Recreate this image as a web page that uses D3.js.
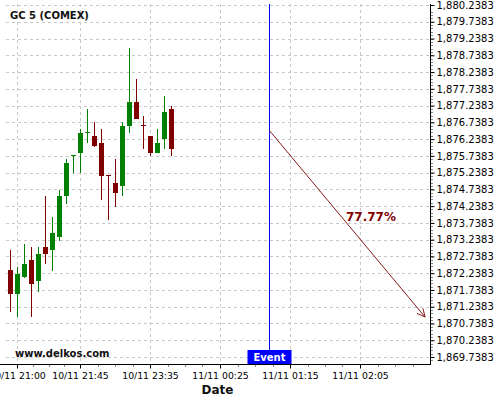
<!DOCTYPE html>
<html>
<head>
<meta charset="utf-8">
<script src="https://cdn.jsdelivr.net/npm/d3@7"></script>
<style>
  html, body { margin: 0; padding: 0; background: #fff; }
  svg { display: block; font-family: "DejaVu Sans", sans-serif; }
</style>
</head>
<body>
<svg id="chart" width="500" height="400"></svg>
<script>
// ---- data ----
const title = "GC 5 (COMEX)";
const watermark = "www.delkos.com";
const openP  = [1872.33, 1871.63, 1872.13, 1872.63, 1872.02, 1873.02, 1872.94, 1873.33, 1874.55, 1875.74, 1875.83, 1876.44, 1876.33, 1876.12, 1875.16, 1874.93, 1874.85, 1876.64, 1877.35, 1876.66, 1876.33, 1875.83, 1876.24, 1877.14];
const highP  = [1872.93, 1872.43, 1873.11, 1873.02, 1873.02, 1874.53, 1873.92, 1874.72, 1875.64, 1875.77, 1876.53, 1877.13, 1876.74, 1876.53, 1875.16, 1875.64, 1876.74, 1878.95, 1878.02, 1876.92, 1876.34, 1876.53, 1877.52, 1877.23];
const lowP   = [1871.09, 1870.92, 1872.10, 1870.92, 1871.69, 1872.50, 1872.31, 1873.21, 1874.31, 1875.22, 1875.22, 1876.11, 1876.01, 1874.41, 1873.82, 1874.20, 1874.53, 1876.41, 1876.84, 1875.93, 1875.73, 1875.82, 1875.93, 1875.73];
const closeP = [1871.63, 1872.21, 1872.51, 1871.93, 1872.81, 1872.82, 1873.44, 1874.54, 1875.53, 1875.76, 1876.42, 1876.45, 1876.04, 1875.15, 1875.15, 1874.64, 1876.63, 1877.35, 1876.85, 1876.64, 1875.83, 1876.12, 1877.05, 1875.95];
const xTickIndex  = [1, 10, 20, 30, 40, 50];
const xTickLabels = ["10/11 21:00", "10/11 21:45", "10/11 23:35", "11/11 00:25", "11/11 01:15", "11/11 02:05"];
const yTickValues = [1869.7383, 1870.2383, 1870.7383, 1871.2383, 1871.7383, 1872.2383, 1872.7383, 1873.2383, 1873.7383, 1874.2383, 1874.7383, 1875.2383, 1875.7383, 1876.2383, 1876.7383, 1877.2383, 1877.7383, 1878.2383, 1878.7383, 1879.2383, 1879.7383, 1880.2383];
const eventIndex = 37;
const eventLabel = "Event";
const arrowFrom = [37, 1876.51];
const arrowTo   = [59.3, 1870.93];
const arrowLabel = "77.77%";
const axisTitle = "Date";

// ---- layout ----
const svg = d3.select("#chart");
const plotLeft = 6, plotRight = 430, plotTop = 4, plotBottom = 364;

const x = d3.scaleLinear().domain([0, 60]).range([10, 430]);
const y = d3.scaleLinear().domain([1869.7383, 1880.2383]).range([357, 5]);

const candles = openP.map((o, i) => ({ i, o, h: highP[i], l: lowP[i], c: closeP[i] }));

// grid
const grid = svg.append("g").attr("shape-rendering", "crispEdges");
grid.selectAll("line.h").data(yTickValues).join("line")
  .attr("x1", plotLeft).attr("x2", plotRight)
  .attr("y1", d => Math.round(y(d)) + 0.5).attr("y2", d => Math.round(y(d)) + 0.5)
  .attr("stroke", "#c8c8c8").attr("stroke-dasharray", "3,3");
grid.selectAll("line.v").data(xTickIndex).join("line")
  .attr("x1", d => Math.round(x(d)) + 0.5).attr("x2", d => Math.round(x(d)) + 0.5)
  .attr("y1", plotTop).attr("y2", plotBottom)
  .attr("stroke", "#c8c8c8").attr("stroke-dasharray", "3,3");

// title & watermark
svg.append("text").attr("x", 10).attr("y", 19).attr("font-size", 10).attr("font-weight", "bold")
  .attr("fill", "#111").text(title);
svg.append("text").attr("x", 15).attr("y", 357).attr("font-size", 10).attr("font-weight", "bold")
  .attr("fill", "#111").text(watermark);

// candles
const cg = svg.append("g").attr("shape-rendering", "crispEdges");
const col = d => d.c >= d.o ? "#008000" : "#800000";
cg.selectAll("line.wick").data(candles).join("line")
  .attr("x1", d => Math.round(x(d.i)) + 0.5).attr("x2", d => Math.round(x(d.i)) + 0.5)
  .attr("y1", d => y(d.h)).attr("y2", d => y(d.l))
  .attr("stroke", col);
cg.selectAll("rect.body").data(candles).join("rect")
  .attr("x", d => Math.round(x(d.i)) - 2).attr("width", 5)
  .attr("y", d => Math.min(y(d.o), y(d.c)))
  .attr("height", d => Math.max(1.2, Math.abs(y(d.o) - y(d.c))))
  .attr("fill", col);

// event line
const ex = Math.round(x(eventIndex)) + 0.5;
svg.append("line").attr("x1", ex).attr("x2", ex).attr("y1", plotTop).attr("y2", 350)
  .attr("stroke", "#0000ff").attr("shape-rendering", "crispEdges");
svg.append("rect").attr("x", ex - 22).attr("y", 350).attr("width", 44).attr("height", 14)
  .attr("fill", "#0000ff");
svg.append("text").attr("x", ex).attr("y", 361).attr("text-anchor", "middle")
  .attr("font-size", 10).attr("font-weight", "bold").attr("fill", "#fff").text(eventLabel);

// arrow
const ax1 = x(arrowFrom[0]), ay1 = y(arrowFrom[1]), ax2 = x(arrowTo[0]), ay2 = y(arrowTo[1]);
svg.append("line").attr("x1", ax1).attr("y1", ay1).attr("x2", ax2).attr("y2", ay2)
  .attr("stroke", "#8b1a1a").attr("stroke-width", 1);
const ang = Math.atan2(ay2 - ay1, ax2 - ax1), hl = 9, hs = 0.45;
const head = [[ax2 - hl * Math.cos(ang - hs), ay2 - hl * Math.sin(ang - hs)], [ax2, ay2], [ax2 - hl * Math.cos(ang + hs), ay2 - hl * Math.sin(ang + hs)]];
svg.append("path").attr("d", d3.line()(head)).attr("fill", "none").attr("stroke", "#8b1a1a");
svg.append("text").attr("x", 346).attr("y", 221).attr("font-size", 12).attr("font-weight", "bold")
  .attr("fill", "#800000").text(arrowLabel);

// right axis
const fmt = d3.format(",.4f");
const yAxis = d3.axisRight(y).tickValues(yTickValues).tickFormat(fmt).tickSize(4).tickPadding(2);
const yMinor = d3.range(0, 106).map(k => 1869.5383 + k * 0.1).filter(v => v >= 1869.54 && v <= 1880.24);
const ya = svg.append("g").attr("transform", `translate(${plotRight + 0.5},0)`);
ya.append("g").selectAll("line").data(yMinor).join("line")
  .attr("x1", 0).attr("x2", 2).attr("y1", d => Math.round(y(d)) + 0.5).attr("y2", d => Math.round(y(d)) + 0.5)
  .attr("stroke", "#888").attr("shape-rendering", "crispEdges");
ya.call(yAxis);
ya.select(".domain").remove();
ya.selectAll(".tick line").attr("stroke", "#000");
ya.selectAll(".tick text").attr("font-size", 10).attr("font-family", "DejaVu Sans").attr("fill", "#000");
ya.append("line").attr("x1", 0).attr("x2", 0).attr("y1", plotTop).attr("y2", plotBottom + 0.5)
  .attr("stroke", "#000").attr("shape-rendering", "crispEdges");

// bottom axis
const xa = svg.append("g").attr("transform", `translate(0,${plotBottom + 0.5})`);
const xMinor = [];
for (let k = 0; k < xTickIndex.length; k++) {
  const a = k === 0 ? xTickIndex[0] - 2.5 : xTickIndex[k - 1], b = xTickIndex[k];
  if (k > 0) for (let m = 1; m < 4; m++) xMinor.push(a + (b - a) * m / 4);
}
[52.5, 55, 57.5].forEach(v => xMinor.push(v));
xa.append("g").selectAll("line").data(xMinor).join("line")
  .attr("x1", d => Math.round(x(d)) + 0.5).attr("x2", d => Math.round(x(d)) + 0.5)
  .attr("y1", 0).attr("y2", 2).attr("stroke", "#888").attr("shape-rendering", "crispEdges");
const xAxis = d3.axisBottom(x).tickValues(xTickIndex).tickFormat((d, i) => xTickLabels[i]).tickSize(4).tickPadding(4);
xa.call(xAxis);
xa.select(".domain").remove();
xa.selectAll(".tick text").attr("font-size", 9.3).attr("font-family", "DejaVu Sans").attr("fill", "#000");
xa.append("line").attr("x1", plotLeft - 6).attr("x2", plotRight + 0.5).attr("y1", 0).attr("y2", 0)
  .attr("stroke", "#000").attr("shape-rendering", "crispEdges");

svg.append("text").attr("x", 217.5).attr("y", 394).attr("text-anchor", "middle")
  .attr("font-size", 12).attr("font-weight", "bold").attr("fill", "#111").text(axisTitle);
</script>
</body>
</html>
